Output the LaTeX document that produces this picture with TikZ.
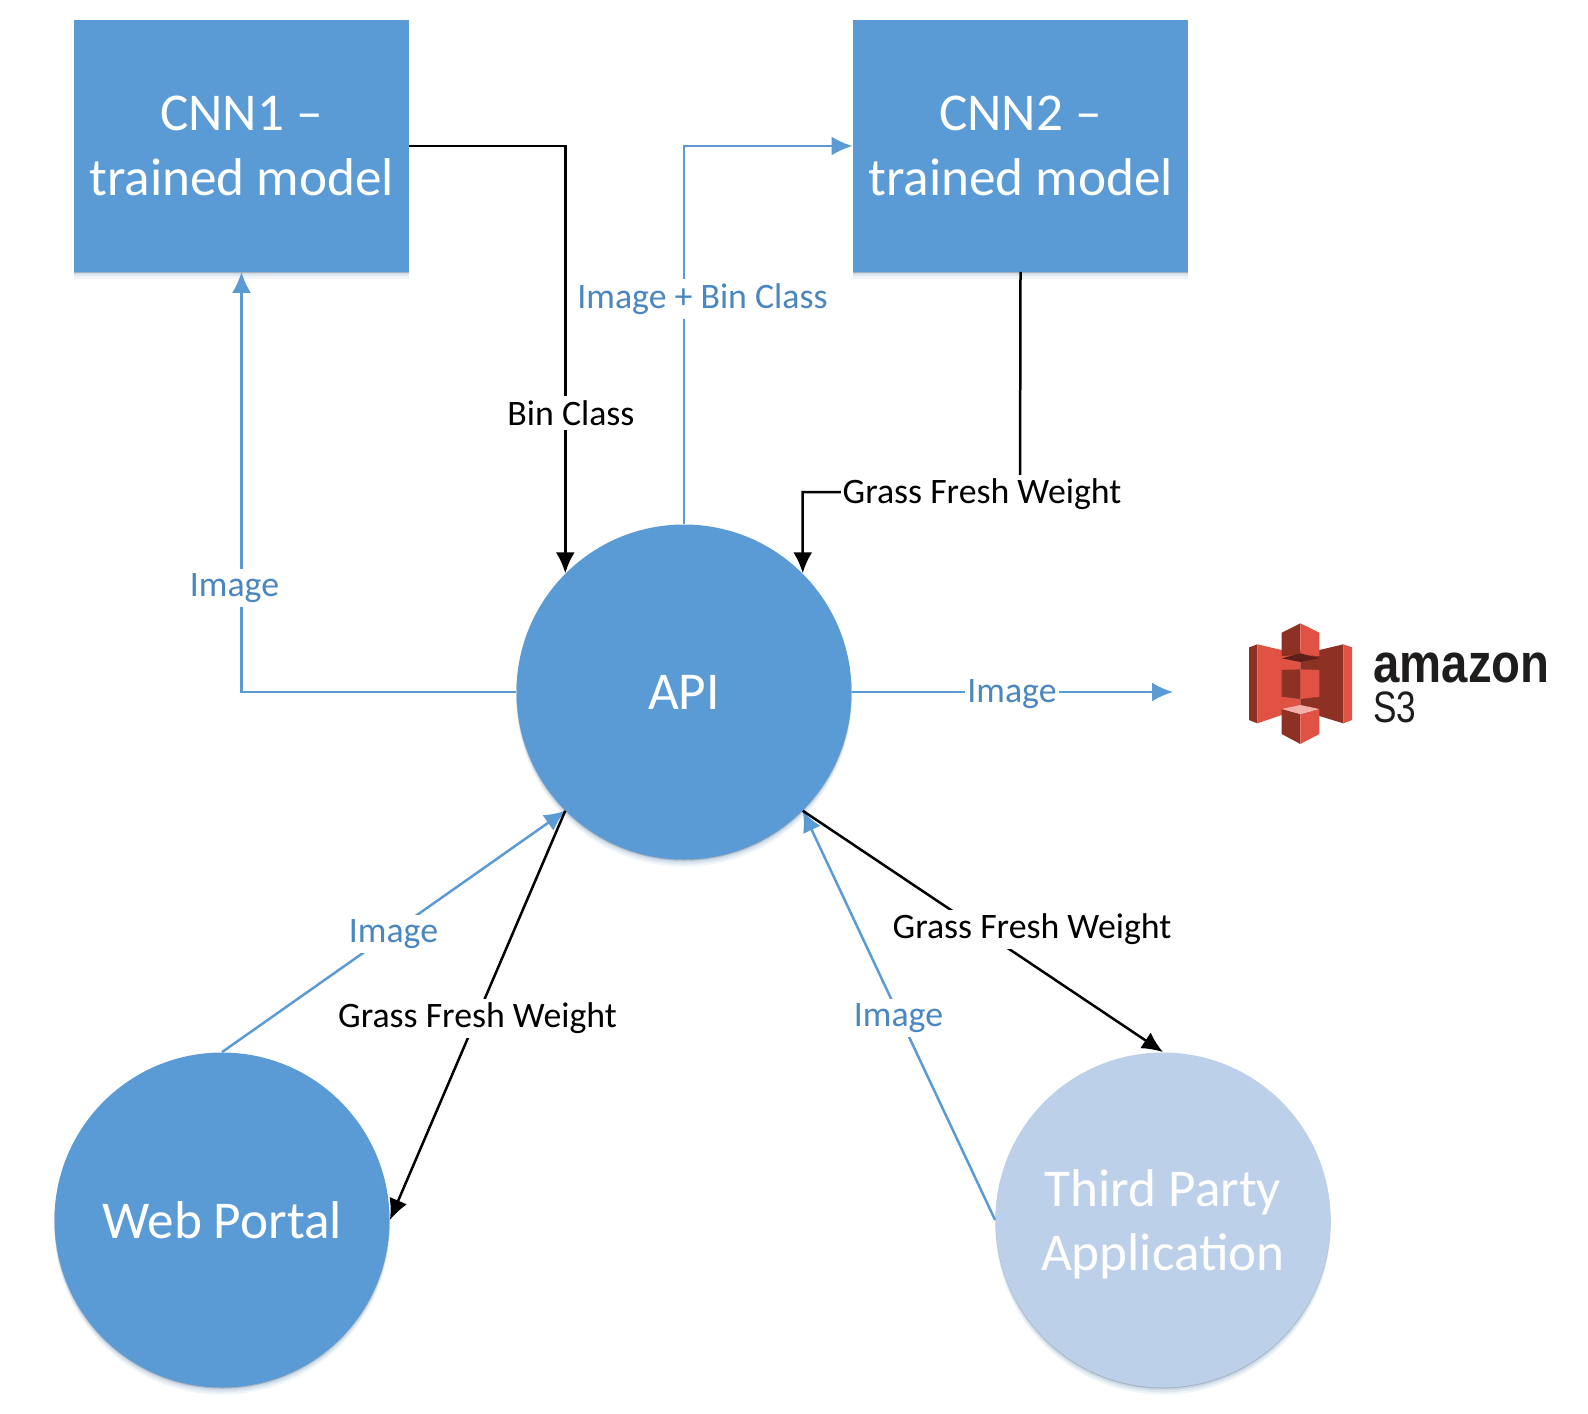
\documentclass[tikz,border=0pt]{standalone}
\usepackage{fontspec}
\setmainfont{Carlito}
\newfontfamily\logofont{Liberation Sans}
\usetikzlibrary{arrows.meta}
\definecolor{boxblue}{HTML}{5B9BD5}
\definecolor{lblblue}{HTML}{4A86C0}
\definecolor{paleblue}{HTML}{BDD0E9}
\definecolor{sthree}{HTML}{E05243}
\definecolor{sthreedark}{HTML}{8C3123}
\definecolor{sthreedeep}{HTML}{5E1F18}
\definecolor{sthreepale}{HTML}{F2B0A9}
\definecolor{logoblack}{HTML}{1F1C1C}
\tikzset{
  softshadow/.style={
    preaction={fill=boxblue!70!gray,fill opacity=.10,transform canvas={yshift=-3.5pt}},
    preaction={fill=boxblue!70!gray,fill opacity=.12,transform canvas={yshift=-2.4pt}},
    preaction={fill=boxblue!70!gray,fill opacity=.18,transform canvas={yshift=-1.4pt}},
    preaction={fill=gray,fill opacity=.45,transform canvas={yshift=-.5pt}}},
  modelbox/.style={rectangle,fill=boxblue,text=white,font=\fontsize{26.6}{32.2}\selectfont,align=center,minimum width=167.5pt,minimum height=125.5pt,inner sep=0pt,softshadow},
  hub/.style={circle,fill=boxblue,text=white,font=\fontsize{26.6}{32.2}\selectfont,align=center,minimum size=167.5pt,inner sep=0pt,softshadow},
  hubpale/.style={hub,fill=paleblue},
  blueflow/.style={draw=boxblue,line width=1.25pt,-{Latex[length=10.5pt,width=9.5pt]}},
  blackflow/.style={draw=black,line width=1.25pt,-{Latex[length=10.5pt,width=9.5pt]}},
  bluelabel/.style={fill=white,text=lblblue,font=\fontsize{17.9}{20}\selectfont,inner xsep=1pt,inner ysep=2pt},
  blacklabel/.style={fill=white,text=black,font=\fontsize{17.9}{20}\selectfont,inner xsep=1pt,inner ysep=2pt},
  logoface/.style={fill=sthree},
  logoside/.style={fill=sthreedark}
}
\begin{document}
\begin{tikzpicture}[x=0.5pt,y=-0.5pt]
\useasboundingbox (0,0) rectangle (1588,1413);
\node[modelbox] (cnn1) at (241.5,146) {CNN1 --\\trained model};
\node[modelbox] (cnn2) at (1020.5,146) {CNN2 --\\trained model};
\node[hub] (api) at (684,692) {API};
\node[hub] (web) at (222,1220) {Web Portal};
\node[hubpale] (third) at (1163,1220) {\rule{0pt}{23pt}Third Party\\Application};
\coordinate (s3in) at (1173,692);
\coordinate (elbow) at (1020,492);
% connectors
\draw[blueflow] (api.west) -| (cnn1.south);
\draw[blackflow] (cnn1.east) -| (api.135);
\draw[blueflow] (api.north) |- (cnn2.west);
\draw[blackflow] (cnn2.south) -- (elbow) -| (api.45);
\draw[blueflow] (api.east) -- (s3in);
\draw[blueflow] (web.north) -- (api.225);
\draw[blackflow] (api.225) -- (web.east);
\draw[blueflow] (third.west) -- (api.315);
\draw[blackflow] (api.315) -- (third.north);
% labels
\node[blacklabel] (lbin) at (571,413) {Bin Class};
\node[bluelabel] (limgbin) at (702.5,299) {Image + Bin Class};
\node[blacklabel] (lg1) at (982,494) {Grass Fresh Weight};
\node[bluelabel] (li1) at (234.5,588) {Image};
\node[bluelabel] (li2) at (1012,694) {Image};
\node[bluelabel] (li3) at (393.5,934) {Image};
\node[blacklabel] (lg2) at (477.5,1018) {Grass Fresh Weight};
\node[bluelabel] (li4) at (898.5,1018) {Image};
\node[blacklabel] (lg3) at (1032,929) {Grass Fresh Weight};
% S3 logo
\begin{scope}[shift={(1200,590)},x=0.16667pt,y=-0.16667pt]
\fill[logoside] (147,172)--(172,163)--(172,400)--(147,390)--cycle;
\fill[logoface] (172,163)--(245,180)--(301,180)--(301,345)--(245,375)--(172,400)--cycle;
\fill[logoside] (301,180)--(358,180)--(430,163)--(430,400)--(358,378)--(301,345)--cycle;
\fill[logoface] (430,163)--(456,172)--(456,390)--(430,400)--cycle;
\fill[logoside] (245,128)--(301,100)--(301,195)--(245,198)--cycle;
\fill[logoface] (301,100)--(358,128)--(358,198)--(301,195)--cycle;
\fill[sthreedeep] (245,205)--(301,190)--(358,205)--(301,216)--cycle;
\fill[logoside] (245,240)--(301,238)--(301,327)--(245,320)--cycle;
\fill[logoface] (301,238)--(358,240)--(358,320)--(301,327)--cycle;
\fill[logoside] (245,357)--(301,372)--(301,462)--(245,432)--cycle;
\fill[logoface] (301,372)--(358,357)--(358,432)--(301,462)--cycle;
\fill[sthreepale] (245,357)--(301,345)--(358,357)--(301,372)--cycle;
\end{scope}
\node[anchor=west,inner sep=0pt,text=logoblack,font=\logofont\bfseries\fontsize{27.5}{27.5}\selectfont] (amazon) at (1373,668) {\scalebox{.86}[1]{amazon}};
\node[anchor=west,inner sep=0pt,text=logoblack,font=\logofont\fontsize{22}{22}\selectfont] (sthreelbl) at (1373,707) {\scalebox{.8}[1]{S3}};
\end{tikzpicture}
\end{document}
